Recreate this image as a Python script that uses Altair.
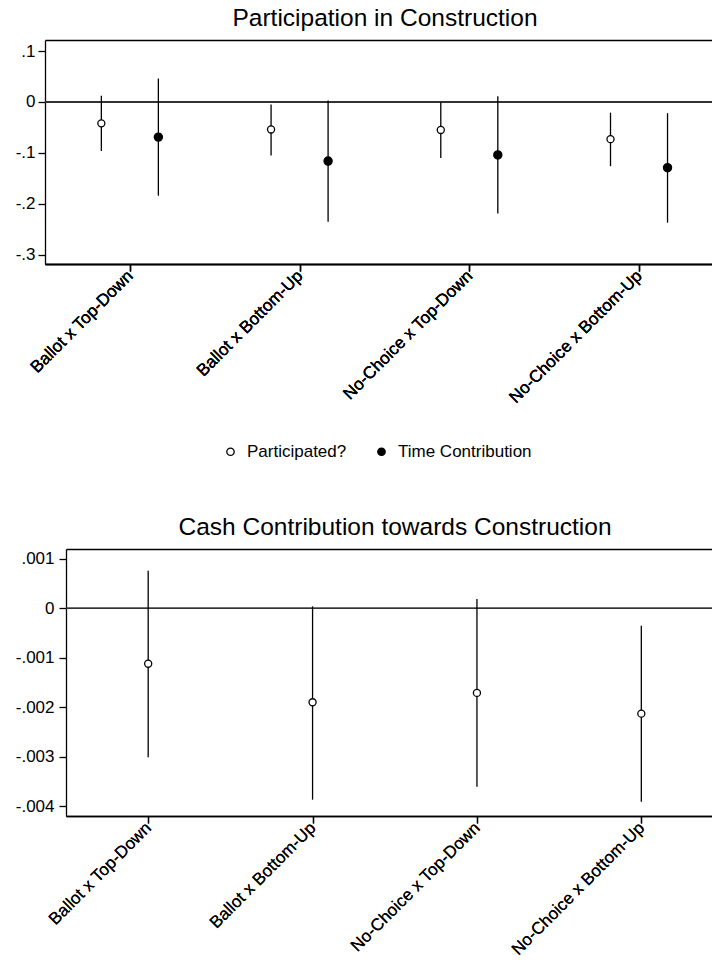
import json
import altair as alt
import pandas as pd

# ---------------- data ----------------
categories = ["Ballot x Top-Down", "Ballot x Bottom-Up",
              "No-Choice x Top-Down", "No-Choice x Bottom-Up"]
series_names = ["Participated?", "Time Contribution"]

part_est = [-0.042, -0.054, -0.055, -0.073]
part_lo = [-0.096, -0.105, -0.110, -0.126]
part_hi = [0.012, -0.005, -0.001, -0.021]

time_est = [-0.069, -0.116, -0.104, -0.129]
time_lo = [-0.184, -0.235, -0.219, -0.237]
time_hi = [0.046, 0.003, 0.011, -0.022]

cash_est = [-0.00112, -0.00190, -0.00171, -0.00213]
cash_lo = [-0.00301, -0.00387, -0.00361, -0.00391]
cash_hi = [0.00076, 0.00004, 0.00019, -0.00035]

top_ticks = [-0.3, -0.2, -0.1, 0.0, 0.1]
cash_ticks = [-0.004, -0.003, -0.002, -0.001, 0.0, 0.001]

rows = []
for i, c in enumerate(categories):
    rows.append(dict(cat=c, idx=i, series=series_names[0],
                     est=part_est[i], lo=part_lo[i], hi=part_hi[i]))
    rows.append(dict(cat=c, idx=i, series=series_names[1],
                     est=time_est[i], lo=time_lo[i], hi=time_hi[i]))
top_df = pd.DataFrame(rows)
cash_df = pd.DataFrame(dict(cat=categories, idx=list(range(4)),
                            est=cash_est, lo=cash_lo, hi=cash_hi))

FONT = "Liberation Sans"
LW = 1.3
XMAX = 3.43
LABEL_SIZE = 17
x_label_expr = json.dumps(categories) + "[datum.value]"


def y_label_expr(fmt):
    return ("datum.value == 0 ? '0' : (datum.value < 0 ? '-' : '') + "
            f"replace(format(abs(datum.value), '{fmt}'), '0.', '.')")


BOTTOM_AXIS = alt.Axis(orient="bottom", values=[0, 1, 2, 3],
                       labelExpr=x_label_expr,
                       labelAngle=-45, labelAlign="right",
                       labelBaseline="middle", tickSize=7, tickWidth=LW,
                       tickColor="black", domainColor="black",
                       domainWidth=LW, labelFont=FONT,
                       labelFontSize=LABEL_SIZE,
                       labelColor="black", labelPadding=2, grid=False,
                       title=None, labelOverlap=False, labelBound=False,
                       labelLimit=0)
TOP_AXIS = alt.Axis(orient="top", labels=False, ticks=False, grid=False,
                    domainColor="black", domainWidth=LW, title=None)


def x_scale(rng):
    return alt.Scale(domain=[-0.5, XMAX], range=rng, nice=False, zero=False)


def y_axis(ticks, fmt, pad, offset):
    return alt.Axis(orient="left", values=ticks, labelExpr=y_label_expr(fmt),
                    tickSize=7, tickWidth=LW, tickColor="black",
                    domainColor="black", domainWidth=LW, labelFont=FONT,
                    labelFontSize=LABEL_SIZE, labelColor="black",
                    labelPadding=pad, grid=False, title=None, offset=offset)


def panel(df, xcalc, y_scale, yaxis, xrng, width, height, title, dx,
          legend=None):
    xs = x_scale(xrng)
    base = alt.Chart(df).transform_calculate(xpos=xcalc)
    zero = alt.Chart(df).mark_rule(color="#333333", strokeWidth=1.1).encode(
        x=alt.X(datum=-0.5, type="quantitative", scale=xs, axis=TOP_AXIS),
        x2=alt.X2(datum=XMAX),
        y=alt.Y(datum=0, type="quantitative", scale=y_scale, axis=yaxis),
    )
    bars = base.mark_rule(color="black", strokeWidth=LW).encode(
        x=alt.X("xpos:Q", scale=xs, axis=BOTTOM_AXIS),
        y=alt.Y("lo:Q", scale=y_scale, axis=yaxis),
        y2="hi:Q",
    )
    layers = [zero, bars]
    if legend is None:
        pts = base.mark_point(shape="circle", filled=True, fill="white",
                              stroke="black", strokeWidth=LW, size=50,
                              opacity=1).encode(
            x=alt.X("xpos:Q", scale=xs, axis=BOTTOM_AXIS),
            y=alt.Y("est:Q", scale=y_scale, axis=yaxis),
        )
        layers.append(pts)
    else:
        fill = alt.Fill("series:N",
                        scale=alt.Scale(domain=series_names,
                                        range=["white", "black"]),
                        legend=legend)
        for name, sz in zip(series_names, [50, 66]):
            pts = base.transform_filter(
                alt.datum.series == name
            ).mark_point(shape="circle", filled=True, stroke="black",
                         strokeWidth=LW, size=sz, opacity=1).encode(
                x=alt.X("xpos:Q", scale=xs, axis=BOTTOM_AXIS),
                y=alt.Y("est:Q", scale=y_scale, axis=yaxis),
                fill=fill,
            )
            layers.append(pts)
    return alt.layer(*layers).properties(
        width=width, height=height,
        title=alt.TitleParams(title, dx=dx),
    )


# ---------------- top panel ----------------
top_legend = alt.Legend(title=None, orient="none", direction="horizontal",
                        legendX=156, legendY=403,
                        labelFont=FONT, labelFontSize=17,
                        labelColor="black", symbolType="circle",
                        symbolSize=55, symbolStrokeColor="black",
                        symbolStrokeWidth=LW, labelOffset=8,
                        columnPadding=26, padding=0)

top = panel(top_df,
            "datum.series == 'Participated?' ? datum.idx - 0.168 : datum.idx + 0.168",
            alt.Scale(domain=[-0.318, 0.1216], nice=False, zero=False),
            y_axis(top_ticks, ".1f", 3, 21),
            [-21, 646], 646, 224, "Participation in Construction", -4,
            legend=top_legend)

# ---------------- bottom panel ----------------
bottom = panel(cash_df, "datum.idx",
               alt.Scale(domain=[-0.0042, 0.0012], nice=False, zero=False),
               y_axis(cash_ticks, ".3f", 5, 0),
               [0, 646], 646, 267,
               "Cash Contribution towards Construction", 6)

chart = alt.concat(top, bottom, columns=1, spacing=55).resolve_scale(
    fill="independent"
).resolve_legend(fill="independent").properties(
    padding={"left": 15, "top": 6, "right": -21, "bottom": 4},
    background="white",
).configure_view(stroke=None).configure_title(
    font=FONT, fontSize=24.5, fontWeight="normal", color="black",
    anchor="middle", baseline="alphabetic", offset=8.5,
)

chart.save("out.html", embed_options={"renderer": "svg", "actions": False})
